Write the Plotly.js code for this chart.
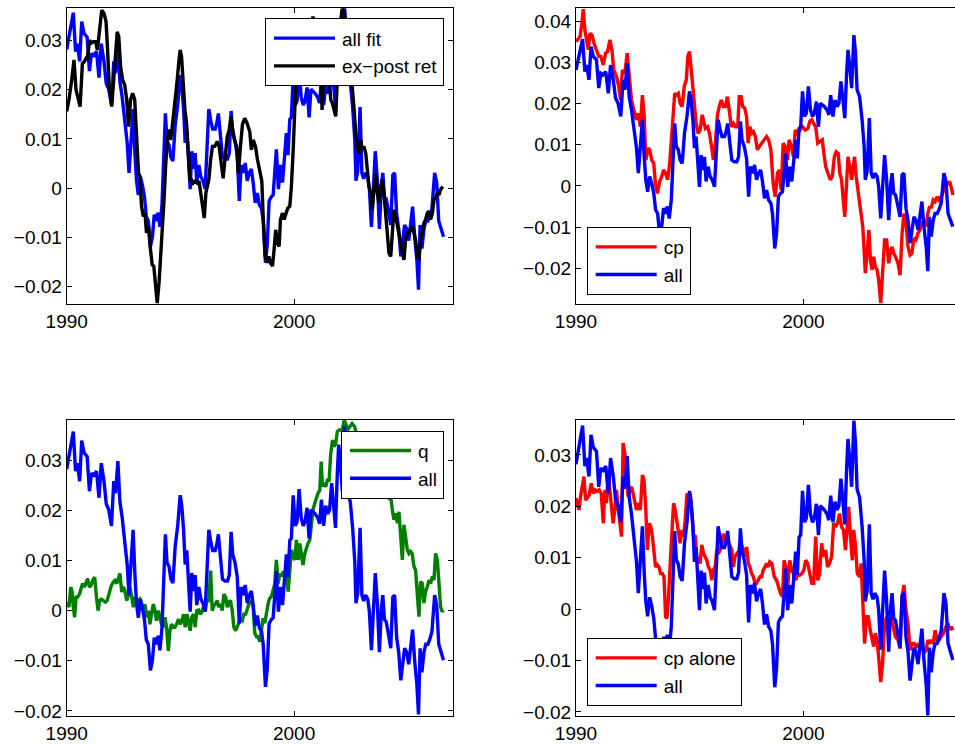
<!DOCTYPE html>
<html>
<head>
<meta charset="utf-8">
<script src="https://cdn.plot.ly/plotly-3.0.1.min.js"></script>
<style>
html,body{margin:0;padding:0;background:#fff;overflow:hidden;}
#chart{width:965px;height:744px;}
</style>
</head>
<body>
<div id="chart"></div>
<script>
// ---------- data ----------
var xTickVals = [1990, 2000];
var xTickText = ['1990', '2000'];

var allYears = [
1990.0,1990.29,1990.39,1990.47,1990.57,1990.66,1990.76,1990.9,1991.0,1991.09,
1991.19,1991.31,1991.42,1991.52,1991.64,1991.74,1991.85,1991.97,1992.07,1992.15,
1992.25,1992.34,1992.44,1992.54,1992.66,1992.74,1992.85,1992.92,1993.0,1993.07,
1993.15,1993.24,1993.33,1993.42,1993.5,1993.59,1993.68,1993.77,1993.85,1993.94,
1994.02,1994.1,1994.19,1994.26,1994.34,1994.41,1994.5,1994.58,1994.67,1994.77,
1994.88,1994.99,1995.06,1995.14,1995.21,1995.28,1995.37,1995.43,1995.5,1995.58,
1995.65,1995.72,1995.81,1995.9,1995.99,1996.09,1996.16,1996.25,1996.34,1996.42,
1996.53,1996.6,1996.67,1996.74,1996.85,1996.96,1997.07,1997.15,1997.23,1997.3,
1997.4,1997.5,1997.59,1997.67,1997.77,1997.85,1997.94,1998.03,1998.12,1998.2,
1998.29,1998.38,1998.47,1998.57,1998.64,1998.74,1998.82,1998.9,1998.99,1999.08,
1999.15,1999.22,1999.31,1999.4,1999.49,1999.57,1999.66,1999.73,1999.81,1999.88,
1999.96,2000.05,2000.13,2000.22,2000.31,2000.4,2000.48,2000.57,2000.66,2000.74,
2000.83,2000.92,2001.04,2001.12,2001.2,2001.3,2001.39,2001.48,2001.56,2001.65,
2001.74,2001.82,2001.9,2001.96,2002.04,2002.12,2002.22,2002.29,2002.36,2002.47,
2002.58,2002.67,2002.72,2002.8,2002.9,2002.98,2003.06,2003.14,2003.24,2003.31,
2003.4,2003.48,2003.57,2003.66,2003.75,2003.84,2003.9,2003.97,2004.05,2004.16,
2004.25,2004.34,2004.42,2004.51,2004.6,2004.69,2004.77,2004.86,2004.95,2005.04,
2005.12,2005.21,2005.3,2005.4,2005.47,2005.54,2005.62,2005.71,2005.79,2005.88,
2005.96,2006.06,2006.18,2006.27,2006.36,2006.46,2006.57];
var allFit = [
0.0282,0.0357,0.0278,0.0294,0.0258,0.0339,0.0315,0.0307,0.0238,0.0274,
0.0270,0.0278,0.0225,0.0294,0.0258,0.0213,0.0201,0.0169,0.0258,0.0234,
0.0298,0.0217,0.0185,0.0140,0.0092,0.0031,0.0112,0.0161,0.0071,0.0015,
-0.0014,0.0023,0.0006,-0.0018,-0.0058,-0.0067,-0.0119,-0.0099,-0.0054,-0.0067,
-0.0050,-0.0079,-0.0034,0.0063,0.0152,0.0096,0.0088,0.0063,0.0055,0.0128,
0.0169,0.0230,0.0209,0.0161,0.0092,0.0120,0.0031,-0.0002,0.0075,0.0039,
0.0071,0.0011,0.0047,0.0023,0.0015,-0.0002,0.0071,0.0161,0.0136,0.0120,
0.0120,0.0132,0.0152,0.0112,0.0063,0.0059,0.0059,0.0071,0.0157,0.0112,
0.0096,0.0067,-0.0026,0.0047,0.0031,0.0051,0.0015,0.0031,0.0039,0.0011,
-0.0030,-0.0010,-0.0034,-0.0042,-0.0067,-0.0152,-0.0115,-0.0026,-0.0018,-0.0014,
0.0047,0.0079,-0.0002,0.0047,0.0011,0.0071,0.0112,0.0067,0.0140,0.0144,
0.0230,0.0169,0.0177,0.0242,0.0185,0.0169,0.0177,0.0205,0.0144,0.0201,
0.0197,0.0193,0.0185,0.0173,0.0221,0.0169,0.0209,0.0193,0.0201,0.0254,
0.0209,0.0165,0.0274,0.0331,0.0290,0.0238,0.0367,0.0323,0.0234,0.0217,
0.0161,0.0096,0.0015,0.0035,0.0165,0.0031,0.0019,0.0031,0.0023,-0.0002,
-0.0079,-0.0018,0.0075,0.0015,-0.0083,0.0006,0.0031,-0.0018,-0.0022,-0.0050,
-0.0075,0.0027,0.0031,-0.0054,-0.0083,-0.0139,-0.0107,-0.0075,-0.0083,-0.0107,
-0.0075,-0.0038,-0.0099,-0.0148,-0.0207,-0.0075,-0.0123,-0.0083,-0.0067,-0.0067,
-0.0058,-0.0042,0.0031,0.0011,-0.0067,-0.0083,-0.0099];

var retYears = [
1990.0,1990.1,1990.22,1990.32,1990.41,1990.5,1990.59,1990.69,1990.77,1990.85,
1990.91,1991.0,1991.08,1991.17,1991.27,1991.35,1991.43,1991.54,1991.64,1991.73,
1991.79,1991.87,1991.98,1992.05,1992.14,1992.22,1992.29,1992.37,1992.46,1992.55,
1992.64,1992.72,1992.81,1992.9,1992.99,1993.07,1993.16,1993.22,1993.29,1993.37,
1993.44,1993.51,1993.6,1993.67,1993.76,1993.83,1993.91,1993.98,1994.06,1994.13,
1994.2,1994.28,1994.35,1994.42,1994.5,1994.57,1994.64,1994.71,1994.79,1994.86,
1994.93,1994.99,1995.05,1995.12,1995.2,1995.27,1995.35,1995.42,1995.49,1995.56,
1995.65,1995.74,1995.82,1995.9,1995.97,1996.05,1996.12,1996.18,1996.25,1996.33,
1996.41,1996.51,1996.62,1996.7,1996.79,1996.88,1996.97,1997.06,1997.15,1997.22,
1997.3,1997.38,1997.47,1997.55,1997.64,1997.73,1997.83,1997.93,1998.05,1998.12,
1998.2,1998.3,1998.39,1998.49,1998.58,1998.64,1998.73,1998.81,1998.89,1998.96,
1999.05,1999.12,1999.19,1999.27,1999.34,1999.4,1999.49,1999.56,1999.63,1999.72,
1999.81,1999.88,1999.96,2000.02,2000.08,2000.13,2000.23,2000.29,2000.37,2000.44,
2000.51,2000.59,2000.69,2000.76,2000.83,2000.92,2001.0,2001.08,2001.16,2001.23,
2001.3,2001.39,2001.46,2001.54,2001.61,2001.68,2001.76,2001.83,2001.9,2001.98,
2002.05,2002.12,2002.2,2002.27,2002.34,2002.42,2002.49,2002.56,2002.64,2002.71,
2002.78,2002.86,2002.93,2003.0,2003.07,2003.15,2003.22,2003.29,2003.37,2003.44,
2003.52,2003.59,2003.66,2003.73,2003.81,2003.88,2003.95,2004.03,2004.1,2004.17,
2004.25,2004.32,2004.39,2004.47,2004.54,2004.61,2004.69,2004.76,2004.83,2004.9,
2004.98,2005.05,2005.12,2005.19,2005.27,2005.34,2005.42,2005.49,2005.56,2005.64,
2005.71,2005.78,2005.86,2005.93,2006.0,2006.08,2006.15,2006.22,2006.3,2006.37,
2006.44,2006.54];
var exPostRet = [
0.0156,0.0180,0.0220,0.0261,0.0200,0.0180,0.0166,0.0254,0.0257,0.0264,
0.0261,0.0301,0.0295,0.0298,0.0298,0.0281,0.0322,0.0362,0.0356,0.0339,
0.0288,0.0207,0.0166,0.0213,0.0268,0.0318,0.0308,0.0247,0.0220,0.0210,
0.0180,0.0125,0.0180,0.0193,0.0180,0.0112,0.0030,0.0024,-0.0037,-0.0058,
-0.0051,-0.0091,-0.0078,-0.0119,-0.0156,-0.0159,-0.0200,-0.0234,-0.0193,-0.0146,
-0.0091,-0.0024,0.0044,0.0098,0.0119,0.0098,0.0125,0.0152,0.0186,0.0220,
0.0257,0.0281,0.0268,0.0207,0.0159,0.0132,0.0071,0.0017,0.0017,0.0010,
0.0014,0.0010,0.0014,-0.0010,-0.0037,-0.0061,-0.0010,0.0007,0.0017,0.0058,
0.0085,0.0085,0.0095,0.0085,0.0058,0.0020,0.0064,0.0105,0.0119,0.0146,
0.0119,0.0098,0.0085,0.0030,0.0085,0.0130,0.0142,0.0132,0.0115,0.0078,
0.0098,0.0085,0.0058,0.0030,0.0014,-0.0058,-0.0139,-0.0152,-0.0139,-0.0152,
-0.0159,-0.0125,-0.0085,-0.0112,-0.0119,-0.0064,-0.0051,-0.0064,-0.0051,-0.0041,
-0.0037,0.0003,0.0078,0.0152,0.0220,0.0237,0.0234,0.0247,0.0274,0.0301,
0.0315,0.0312,0.0329,0.0342,0.0349,0.0329,0.0268,0.0227,0.0261,0.0159,
0.0234,0.0281,0.0247,0.0227,0.0180,0.0173,0.0159,0.0146,0.0220,0.0301,
0.0342,0.0366,0.0356,0.0335,0.0295,0.0281,0.0247,0.0207,0.0159,0.0112,
0.0085,0.0071,0.0098,0.0078,0.0085,0.0071,0.0030,0.0003,-0.0010,-0.0044,
0.0003,0.0030,-0.0010,-0.0030,0.0003,0.0017,-0.0010,-0.0051,-0.0091,-0.0132,
-0.0139,-0.0091,-0.0044,-0.0058,-0.0078,-0.0091,-0.0112,-0.0132,-0.0146,-0.0105,
-0.0091,-0.0091,-0.0085,-0.0078,-0.0091,-0.0105,-0.0139,-0.0146,-0.0105,-0.0091,
-0.0071,-0.0064,-0.0051,-0.0047,-0.0064,-0.0051,-0.0024,-0.0020,-0.0010,-0.0014,
-0.0003,0.0003];

var cpYears = [
1990.0,1990.18,1990.26,1990.32,1990.39,1990.47,1990.54,1990.61,1990.7,1990.79,
1990.91,1991.0,1991.09,1991.2,1991.3,1991.39,1991.49,1991.58,1991.66,1991.78,
1991.88,1991.96,1992.04,1992.15,1992.25,1992.34,1992.44,1992.54,1992.66,1992.74,
1992.83,1992.92,1993.0,1993.07,1993.17,1993.24,1993.33,1993.42,1993.49,1993.58,
1993.68,1993.77,1993.85,1993.94,1994.03,1994.12,1994.19,1994.26,1994.34,1994.41,
1994.5,1994.58,1994.67,1994.76,1994.85,1994.92,1994.99,1995.07,1995.14,1995.21,
1995.28,1995.37,1995.46,1995.55,1995.62,1995.69,1995.79,1995.87,1995.96,1996.04,
1996.13,1996.22,1996.3,1996.39,1996.48,1996.57,1996.66,1996.74,1996.83,1996.92,
1997.01,1997.11,1997.18,1997.26,1997.33,1997.42,1997.5,1997.57,1997.65,1997.72,
1997.8,1997.89,1997.97,1998.06,1998.16,1998.27,1998.38,1998.47,1998.57,1998.67,
1998.76,1998.86,1998.93,1999.02,1999.11,1999.2,1999.3,1999.37,1999.47,1999.56,
1999.64,1999.74,1999.84,1999.96,2000.08,2000.2,2000.28,2000.37,2000.45,2000.54,
2000.63,2000.72,2000.83,2000.9,2000.98,2001.08,2001.18,2001.27,2001.36,2001.44,
2001.53,2001.6,2001.68,2001.75,2001.82,2001.89,2001.96,2002.04,2002.12,2002.19,
2002.25,2002.32,2002.4,2002.47,2002.54,2002.61,2002.67,2002.72,2002.8,2002.88,
2002.95,2003.02,2003.09,2003.16,2003.24,2003.31,2003.4,2003.48,2003.57,2003.66,
2003.75,2003.84,2003.9,2003.97,2004.05,2004.16,2004.25,2004.34,2004.42,2004.51,
2004.6,2004.69,2004.77,2004.86,2004.95,2005.04,2005.12,2005.21,2005.3,2005.4,
2005.47,2005.55,2005.62,2005.71,2005.79,2005.88,2005.96,2006.06,2006.16,2006.27,
2006.36,2006.43,2006.53,2006.57];
var cpFit = [
0.0351,0.0363,0.0396,0.0430,0.0380,0.0355,0.0331,0.0371,0.0367,0.0347,
0.0331,0.0315,0.0315,0.0294,0.0323,0.0327,0.0355,0.0331,0.0282,0.0266,
0.0242,0.0209,0.0282,0.0274,0.0323,0.0270,0.0209,0.0185,0.0161,0.0177,
0.0144,0.0221,0.0169,0.0063,0.0092,0.0088,0.0063,0.0055,0.0006,-0.0018,
0.0011,0.0023,0.0039,0.0031,0.0015,0.0055,0.0120,0.0185,0.0225,0.0221,
0.0225,0.0201,0.0193,0.0242,0.0258,0.0315,0.0327,0.0282,0.0230,0.0185,
0.0152,0.0128,0.0136,0.0173,0.0152,0.0140,0.0144,0.0128,0.0096,0.0063,
0.0104,0.0173,0.0193,0.0209,0.0193,0.0193,0.0217,0.0185,0.0144,0.0152,
0.0144,0.0144,0.0217,0.0217,0.0193,0.0189,0.0169,0.0104,0.0144,0.0128,
0.0132,0.0120,0.0088,0.0096,0.0104,0.0112,0.0120,0.0112,0.0088,0.0006,
-0.0026,0.0031,0.0039,-0.0010,0.0104,0.0096,0.0063,0.0112,0.0096,0.0071,
0.0136,0.0128,0.0136,0.0144,0.0136,0.0140,0.0157,0.0161,0.0152,0.0144,
0.0104,0.0108,0.0112,0.0079,0.0047,0.0031,0.0015,0.0023,0.0071,0.0083,
0.0079,0.0031,0.0015,-0.0034,-0.0075,-0.0002,0.0071,0.0047,0.0015,0.0047,
0.0071,0.0023,-0.0010,-0.0026,-0.0058,-0.0099,-0.0156,-0.0212,-0.0164,-0.0107,
-0.0182,-0.0204,-0.0172,-0.0196,-0.0204,-0.0229,-0.0285,-0.0212,-0.0131,-0.0131,
-0.0188,-0.0156,-0.0148,-0.0164,-0.0172,-0.0188,-0.0217,-0.0115,-0.0067,-0.0091,
-0.0148,-0.0168,-0.0164,-0.0127,-0.0131,-0.0115,-0.0107,-0.0091,-0.0083,-0.0099,
-0.0067,-0.0050,-0.0054,-0.0034,-0.0038,-0.0026,-0.0034,-0.0026,-0.0010,0.0002,
0.0006,0.0011,-0.0010,-0.0022];

var qYears = [
1990.0,1990.1,1990.18,1990.23,1990.29,1990.35,1990.41,1990.48,1990.56,1990.63,
1990.7,1990.78,1990.85,1990.92,1991.0,1991.07,1991.14,1991.23,1991.31,1991.38,
1991.45,1991.52,1991.61,1991.7,1991.78,1991.87,1991.96,1992.05,1992.12,1992.2,
1992.27,1992.34,1992.42,1992.49,1992.56,1992.64,1992.71,1992.78,1992.86,1992.93,
1993.0,1993.07,1993.15,1993.22,1993.29,1993.37,1993.44,1993.51,1993.59,1993.66,
1993.73,1993.81,1993.88,1993.95,1994.03,1994.1,1994.17,1994.25,1994.32,1994.39,
1994.47,1994.54,1994.61,1994.69,1994.76,1994.83,1994.92,1994.99,1995.07,1995.14,
1995.21,1995.29,1995.36,1995.43,1995.5,1995.58,1995.65,1995.72,1995.8,1995.87,
1995.94,1996.01,1996.09,1996.17,1996.25,1996.33,1996.4,1996.47,1996.54,1996.62,
1996.69,1996.76,1996.84,1996.91,1996.99,1997.06,1997.13,1997.2,1997.28,1997.35,
1997.43,1997.5,1997.57,1997.64,1997.72,1997.79,1997.87,1997.94,1998.01,1998.08,
1998.13,1998.2,1998.27,1998.35,1998.42,1998.49,1998.56,1998.64,1998.71,1998.78,
1998.86,1998.93,1999.0,1999.08,1999.15,1999.22,1999.3,1999.37,1999.44,1999.52,
1999.59,1999.66,1999.74,1999.81,1999.88,1999.96,2000.03,2000.1,2000.18,2000.25,
2000.32,2000.39,2000.47,2000.54,2000.61,2000.69,2000.76,2000.83,2000.91,2000.98,
2001.05,2001.13,2001.19,2001.25,2001.31,2001.39,2001.46,2001.54,2001.61,2001.69,
2001.76,2001.83,2001.9,2001.98,2002.05,2002.12,2002.2,2002.27,2002.35,2002.45,
2002.55,2002.66,2002.8,2002.95,2003.1,2003.25,2003.4,2003.55,2003.69,2003.76,
2003.84,2003.91,2004.0,2004.08,2004.17,2004.25,2004.32,2004.39,2004.47,2004.54,
2004.61,2004.69,2004.76,2004.83,2004.9,2004.98,2005.05,2005.12,2005.19,2005.27,
2005.34,2005.42,2005.49,2005.56,2005.64,2005.71,2005.78,2005.86,2005.93,2006.0,
2006.08,2006.15,2006.22,2006.3,2006.37,2006.44,2006.51,2006.57];
var qFit = [
0.0017,0.0007,0.0047,0.0040,0.0007,-0.0013,0.0027,0.0027,0.0033,0.0047,
0.0054,0.0047,0.0057,0.0064,0.0047,0.0050,0.0060,0.0067,0.0027,0.0000,
0.0020,0.0023,0.0020,0.0017,0.0020,0.0037,0.0050,0.0057,0.0060,0.0054,
0.0064,0.0074,0.0037,0.0047,0.0040,0.0020,0.0030,0.0047,0.0027,0.0007,
0.0027,0.0023,0.0020,0.0023,0.0013,0.0000,0.0013,-0.0013,0.0000,-0.0027,
-0.0007,0.0013,0.0000,-0.0020,0.0000,-0.0013,-0.0027,-0.0033,-0.0013,-0.0033,
-0.0080,-0.0040,-0.0027,-0.0033,-0.0033,-0.0027,-0.0017,-0.0027,-0.0020,-0.0007,
-0.0033,-0.0007,-0.0020,-0.0040,-0.0013,-0.0007,-0.0033,0.0000,0.0001,-0.0007,
-0.0003,0.0007,0.0000,0.0020,0.0020,0.0080,0.0000,0.0010,0.0013,0.0020,
0.0007,0.0013,0.0000,0.0033,0.0027,0.0007,0.0017,0.0020,0.0000,-0.0033,
-0.0040,-0.0033,-0.0027,-0.0017,-0.0020,-0.0007,-0.0007,0.0003,0.0013,0.0017,
0.0021,0.0008,-0.0045,-0.0052,-0.0052,-0.0062,-0.0039,-0.0015,-0.0025,-0.0005,
0.0015,0.0025,0.0028,0.0041,0.0054,0.0101,0.0054,0.0074,0.0068,0.0078,
0.0074,0.0068,0.0038,0.0081,0.0121,0.0108,0.0101,0.0141,0.0101,0.0134,
0.0114,0.0091,0.0114,0.0127,0.0134,0.0141,0.0181,0.0201,0.0214,0.0227,
0.0234,0.0240,0.0297,0.0247,0.0254,0.0247,0.0260,0.0260,0.0313,0.0340,
0.0327,0.0333,0.0357,0.0360,0.0360,0.0360,0.0380,0.0373,0.0360,0.0367,
0.0373,0.0367,0.0340,0.0320,0.0325,0.0300,0.0285,0.0265,0.0247,0.0237,
0.0240,0.0234,0.0237,0.0227,0.0224,0.0227,0.0201,0.0181,0.0194,0.0174,
0.0197,0.0154,0.0101,0.0171,0.0147,0.0121,0.0114,0.0118,0.0114,0.0088,
0.0081,0.0041,-0.0012,0.0058,0.0054,0.0015,0.0038,0.0048,0.0061,0.0054,
0.0068,0.0061,0.0114,0.0101,0.0048,0.0008,-0.0002,0.0001];

var cpAloneYears = [
1990.0,1990.13,1990.2,1990.28,1990.35,1990.42,1990.5,1990.58,1990.67,1990.76,
1990.85,1990.93,1991.02,1991.11,1991.2,1991.27,1991.34,1991.42,1991.49,1991.56,
1991.63,1991.71,1991.78,1991.85,1991.93,1992.0,1992.07,1992.15,1992.22,1992.29,
1992.36,1992.44,1992.51,1992.58,1992.66,1992.74,1992.83,1992.92,1992.99,1993.07,
1993.14,1993.21,1993.29,1993.36,1993.43,1993.5,1993.58,1993.65,1993.72,1993.8,
1993.87,1993.94,1994.0,1994.07,1994.15,1994.22,1994.29,1994.36,1994.44,1994.51,
1994.58,1994.66,1994.73,1994.8,1994.88,1994.95,1995.02,1995.09,1995.17,1995.24,
1995.31,1995.39,1995.46,1995.53,1995.61,1995.68,1995.75,1995.82,1995.9,1995.97,
1996.04,1996.12,1996.19,1996.26,1996.34,1996.41,1996.48,1996.55,1996.63,1996.7,
1996.77,1996.85,1996.92,1996.99,1997.07,1997.14,1997.21,1997.28,1997.36,1997.43,
1997.5,1997.58,1997.65,1997.72,1997.8,1997.87,1997.94,1998.01,1998.09,1998.16,
1998.23,1998.31,1998.38,1998.45,1998.52,1998.61,1998.72,1998.82,1998.9,1998.99,
1999.08,1999.15,1999.23,1999.31,1999.4,1999.49,1999.57,1999.66,1999.75,1999.84,
1999.93,2000.02,2000.1,2000.19,2000.28,2000.37,2000.45,2000.54,2000.63,2000.71,
2000.8,2000.89,2000.98,2001.06,2001.15,2001.24,2001.33,2001.41,2001.5,2001.59,
2001.68,2001.76,2001.85,2001.92,2001.99,2002.07,2002.15,2002.21,2002.28,2002.37,
2002.47,2002.54,2002.61,2002.69,2002.77,2002.85,2002.94,2003.02,2003.09,2003.16,
2003.24,2003.32,2003.4,2003.48,2003.57,2003.66,2003.75,2003.82,2003.9,2003.98,
2004.05,2004.16,2004.25,2004.34,2004.42,2004.51,2004.6,2004.69,2004.77,2004.86,
2004.95,2005.04,2005.12,2005.21,2005.3,2005.4,2005.47,2005.55,2005.62,2005.71,
2005.79,2005.88,2005.96,2006.06,2006.16,2006.27,2006.36,2006.43,2006.5,2006.57];
var cpAloneFit = [
0.0216,0.0193,0.0219,0.0238,0.0258,0.0212,0.0216,0.0222,0.0245,0.0225,
0.0232,0.0229,0.0232,0.0225,0.0167,0.0232,0.0206,0.0264,0.0232,0.0206,
0.0167,0.0193,0.0232,0.0199,0.0160,0.0141,0.0323,0.0303,0.0258,0.0219,
0.0232,0.0238,0.0225,0.0206,0.0193,0.0206,0.0193,0.0261,0.0251,0.0193,
0.0115,0.0167,0.0160,0.0141,0.0102,0.0082,0.0086,0.0082,0.0069,0.0069,
0.0063,-0.0015,-0.0018,0.0024,0.0095,0.0160,0.0206,0.0193,0.0167,0.0144,
0.0128,0.0154,0.0141,0.0173,0.0225,0.0216,0.0225,0.0193,0.0141,0.0144,
0.0102,0.0095,0.0089,0.0125,0.0108,0.0102,0.0095,0.0082,0.0076,0.0056,
0.0076,0.0082,0.0115,0.0108,0.0115,0.0131,0.0147,0.0128,0.0141,0.0131,
0.0121,0.0115,0.0082,0.0102,0.0108,0.0105,0.0128,0.0125,0.0115,0.0102,
0.0121,0.0089,0.0082,0.0069,0.0063,0.0050,0.0050,0.0056,0.0063,0.0063,
0.0076,0.0082,0.0089,0.0082,0.0092,0.0089,0.0063,0.0056,0.0044,0.0031,
0.0024,0.0095,0.0082,0.0044,0.0095,0.0076,0.0069,0.0056,0.0069,0.0066,
0.0069,0.0076,0.0095,0.0089,0.0069,0.0050,0.0050,0.0141,0.0056,0.0069,
0.0128,0.0102,0.0115,0.0082,0.0089,0.0102,0.0167,0.0160,0.0167,0.0186,
0.0160,0.0154,0.0115,0.0167,0.0199,0.0141,0.0095,0.0154,0.0128,0.0069,
0.0063,0.0089,-0.0002,-0.0067,-0.0015,-0.0015,-0.0041,-0.0060,-0.0073,-0.0047,
-0.0060,-0.0099,-0.0142,-0.0106,-0.0028,-0.0015,-0.0041,-0.0008,-0.0028,-0.0041,
-0.0054,-0.0060,-0.0077,0.0024,0.0047,-0.0002,-0.0028,-0.0080,-0.0067,-0.0067,
-0.0073,-0.0067,-0.0080,-0.0067,-0.0086,-0.0080,-0.0060,-0.0067,-0.0060,-0.0067,
-0.0041,-0.0060,-0.0060,-0.0054,-0.0047,-0.0034,-0.0028,-0.0041,-0.0034,-0.0041];

// ---------- figure ----------
var BLUE = '#0000ff', BLACK = '#000000', RED = '#ff0000', GREEN = '#008000';
var LW = 3.4;
function line(x, y, name, color, xa, ya, leg) {
  return {x: x, y: y, name: name, type: 'scatter', mode: 'lines',
          line: {color: color, width: LW}, xaxis: xa, yaxis: ya, legend: leg,
          hoverinfo: 'skip'};
}
var traces = [
  line(allYears, allFit, 'all fit', BLUE, 'x', 'y', 'legend'),
  line(retYears, exPostRet, 'ex\u2212post ret', BLACK, 'x', 'y', 'legend'),
  line(cpYears, cpFit, 'cp', RED, 'x2', 'y2', 'legend2'),
  line(allYears, allFit, 'all', BLUE, 'x2', 'y2', 'legend2'),
  line(qYears, qFit, 'q', GREEN, 'x3', 'y3', 'legend3'),
  line(allYears, allFit, 'all', BLUE, 'x3', 'y3', 'legend3'),
  line(cpAloneYears, cpAloneFit, 'cp alone', RED, 'x4', 'y4', 'legend4'),
  line(allYears, allFit, 'all', BLUE, 'x4', 'y4', 'legend4')
];

var W = 965, H = 744;
var FONT = 'Liberation Sans, Arial, Helvetica, sans-serif';
function xax(d0, d1, anchor) {
  return {domain: [d0 / W, d1 / W], anchor: anchor, range: [1990, 2007],
          tickmode: 'array', tickvals: xTickVals, ticktext: xTickText,
          ticks: 'inside', ticklen: 5, tickwidth: 1, tickcolor: '#000',
          showline: true, linecolor: '#000', linewidth: 1, mirror: 'allticks',
          showgrid: false, zeroline: false, tickfont: {size: 19, family: FONT, color: '#000'}};
}
function yax(top, bot, anchor, r) {
  return {domain: [1 - bot / H, 1 - top / H], anchor: anchor, range: r,
          tickmode: 'linear', tick0: 0, dtick: 0.01,
          ticks: 'inside', ticklen: 5, tickwidth: 1, tickcolor: '#000',
          showline: true, linecolor: '#000', linewidth: 1, mirror: 'allticks',
          showgrid: false, zeroline: false, tickfont: {size: 19, family: FONT, color: '#000'}};
}
function leg(x, y, xa, ya) {
  return {x: x / W, y: 1 - y / H, xanchor: xa, yanchor: ya, xref: 'paper', yref: 'paper',
          bgcolor: '#fff', bordercolor: '#000', borderwidth: 1, itemwidth: 66,
          font: {size: 19, family: FONT, color: '#000'}, tracegroupgap: 0};
}
var layout = {
  width: W, height: H, margin: {l: 0, r: 0, t: 0, b: 0},
  paper_bgcolor: '#fff', plot_bgcolor: '#fff', showlegend: true,
  font: {family: FONT, size: 19, color: '#000'},
  xaxis: xax(66.7, 453.3, 'y'),
  yaxis: yax(8.3, 304, 'x', [-0.0236, 0.0366]),
  xaxis2: xax(576, 962.6, 'y2'),
  yaxis2: yax(8.3, 304, 'x2', [-0.0287, 0.0432]),
  xaxis3: xax(66.7, 453.3, 'y3'),
  yaxis3: yax(420, 716, 'x3', [-0.021, 0.038]),
  xaxis4: xax(576, 962.6, 'y4'),
  yaxis4: yax(420, 716, 'x4', [-0.0208, 0.0368]),
  legend: leg(444, 18.3, 'right', 'top'),
  legend2: leg(586.7, 295, 'left', 'bottom'),
  legend3: leg(444, 430.7, 'right', 'top'),
  legend4: leg(586.7, 706, 'left', 'bottom')
};
Plotly.newPlot('chart', traces, layout, {staticPlot: true, displayModeBar: false}).then(function (gd) {
  // lengthen the legend line samples to match the long MATLAB-style keys
  gd.querySelectorAll('.legendlines path').forEach(function (p) {
    p.setAttribute('d', 'M8,0h61');
  });
});
</script>
</body>
</html>
